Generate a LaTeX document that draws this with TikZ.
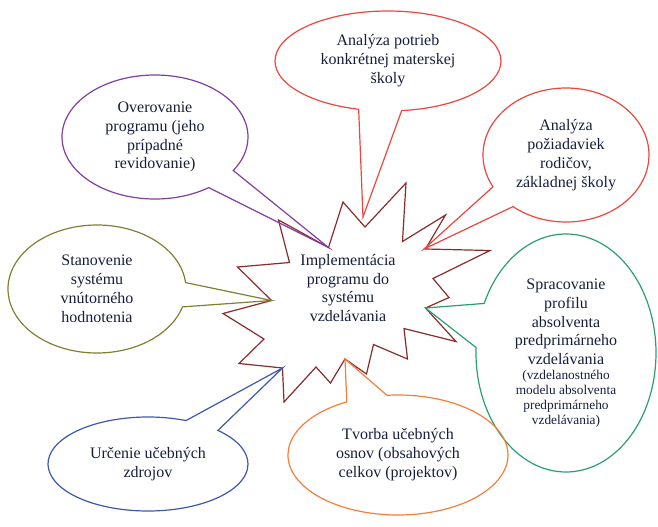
\documentclass[tikz,border=0pt]{standalone}
\usepackage{fontspec}
\setmainfont{Liberation Serif}
\usepackage{xcolor}
\usepackage{tikz}
\usetikzlibrary{shapes.callouts, calc}
\definecolor{darktext}{RGB}{22, 30, 58}
\definecolor{starbrown}{RGB}{135, 45, 45}
\definecolor{bubblepurple}{RGB}{130, 62, 160}
\definecolor{bubblered}{RGB}{236, 70, 62}
\definecolor{bubblegreen}{RGB}{44, 158, 110}
\definecolor{bubbleorange}{RGB}{244, 126, 58}
\definecolor{bubbleblue}{RGB}{62, 88, 172}
\definecolor{bubbleolive}{RGB}{128, 128, 50}
\newcommand{\calloutfont}{\fontsize{12}{14.2}\selectfont}
\newcommand{\notefont}{\fontsize{10}{11.3}\selectfont}
\tikzset{
    bubble/.style={ellipse callout, draw=#1, line width=0.9pt, callout pointer arc=22,
          inner sep=0pt, align=center, text=darktext, font=\calloutfont},
    starline/.style={draw=starbrown, line width=0.9pt, fill=white, line join=miter}
}

\begin{document}
\begin{tikzpicture}[x=0.75pt, y=-0.75pt]
    \useasboundingbox (0,0) rectangle (658,526);
    \draw[starline] (365,227) -- (406,183) -- (402.5,241.5) -- (445.5,215) -- (425.5,249)
        -- (490,250.5) -- (433,278.5) -- (449,297.5) -- (425.5,308) -- (456,341.5)
        -- (404,328.5) -- (407.5,359) -- (373.5,344.5) -- (366.5,374) -- (345,359)
        -- (330.5,383) -- (316,367) -- (284,402) -- (282.5,368) -- (239,363.5)
        -- (264,339) -- (223,313.5) -- (271.5,300.5) -- (237.5,267) -- (289.5,262.5)
        -- (278.5,220) -- (328.5,247.5) -- (343,202) -- cycle;
    \coordinate (tipverify) at (328.5,247.5);
    \coordinate (tipschool) at (363,217);
    \coordinate (tipparents) at (424,249);
    \coordinate (tipprofile) at (425.5,308);
    \coordinate (tipsyllabus) at (345,359);
    \coordinate (tipsources) at (282.5,368);
    \coordinate (tipassess) at (271.5,300.5);

    \node[text=darktext, align=center, font=\calloutfont] (impl) at (348,288)
        {Implementácia\\ programu do\\ systému\\ vzdelávania};

    \node[bubble=bubblepurple, minimum width=139.5pt, minimum height=93pt,
          callout absolute pointer={(tipverify)}] (verify) at (155,137)
        {Overovanie\\ programu (jeho\\ prípadné\\ revidovanie)};
    \node[bubble=bubblered, minimum width=169.5pt, minimum height=75pt,
          callout absolute pointer={(tipschool)}] (school) at (388,61)
        {Analýza potrieb\\ konkrétnej materskej\\ školy};
    \node[bubble=bubblered, minimum width=124.5pt, minimum height=100.5pt,
          callout absolute pointer={(tipparents)}] (parents) at (566,155)
        {Analýza\\ požiadaviek\\ rodičov,\\ základnej školy};
    \node[bubble=bubblegreen, minimum width=135pt, minimum height=178.5pt,
          callout absolute pointer={(tipprofile)}] (profile) at (566,353)
        {Spracovanie\\ profilu\\ absolventa\\ predprimárneho\\ vzdelávania\\[-3pt]
         \notefont (vzdelanostného\\[-3pt] \notefont modelu absolventa\\[-3pt]
         \notefont predprimárneho\\[-3pt] \notefont vzdelávania)};
    \node[bubble=bubbleorange, minimum width=165pt, minimum height=90pt,
          callout absolute pointer={(tipsyllabus)}] (syllabus) at (398,455)
        {Tvorba učebných\\ osnov (obsahových\\ celkov (projektov)};
    \node[bubble=bubbleblue, minimum width=150pt, minimum height=70.5pt,
          callout absolute pointer={(tipsources)}] (sources) at (148,464)
        {Určenie učebných\\ zdrojov};
    \node[bubble=bubbleolive, minimum width=133.5pt, minimum height=96pt,
          callout absolute pointer={(tipassess)}] (assess) at (97,289)
        {Stanovenie\\ systému\\ vnútorného\\ hodnotenia};
\end{tikzpicture}
\end{document}
